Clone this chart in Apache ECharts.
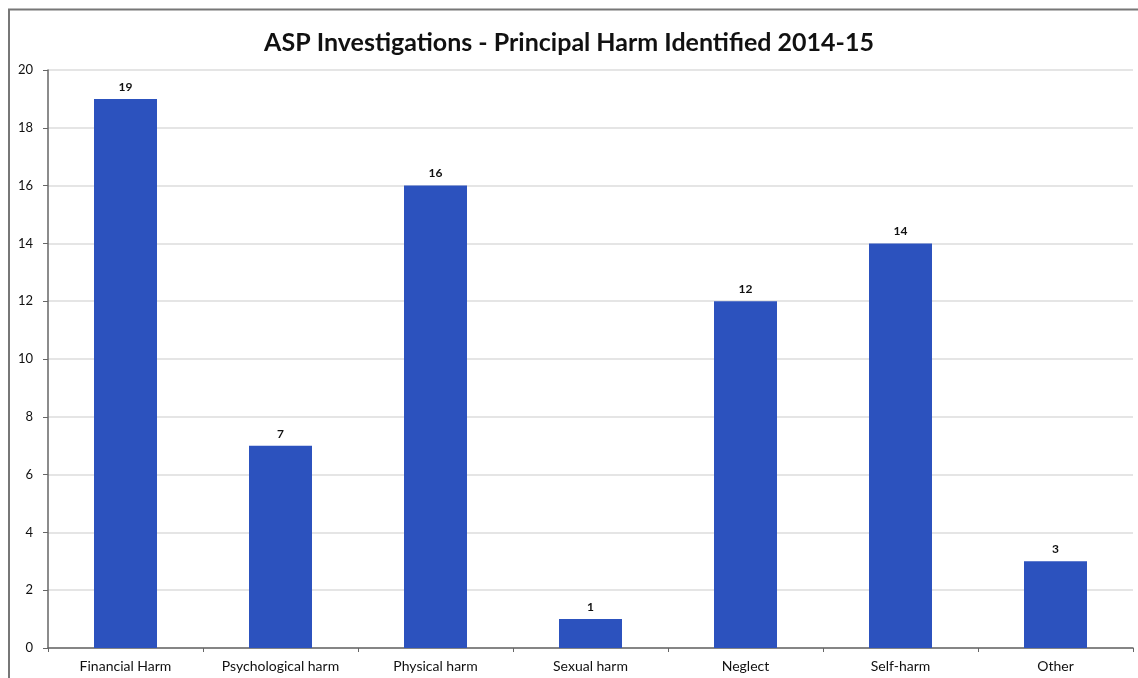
<!DOCTYPE html>
<html><head><meta charset="utf-8">
<script src="https://cdn.jsdelivr.net/npm/echarts@6/dist/echarts.min.js"></script>
<style>html,body{margin:0;padding:0;background:#fff}#c{width:1138px;height:678px}</style>
</head><body><div id="c"></div>
<script>
const categories = ['Financial Harm','Psychological harm','Physical harm','Sexual harm','Neglect','Self-harm','Other'];
const values = [19, 7, 16, 1, 12, 14, 3];
const titleText = 'ASP Investigations - Principal Harm Identified 2014-15';

const chart = echarts.init(document.getElementById('c'));
chart.setOption({
  animation: false,
  backgroundColor: '#fff',
  title: {
    text: titleText, left: 'center', top: 25,
    textStyle: {fontFamily: 'Lato', fontWeight: 'bold', fontSize: 25, color: '#111'}
  },
  graphic: [{
    type: 'polyline',
    shape: {points: [[9, 690], [9, 9.5], [1140, 9.5]]},
    style: {stroke: '#777', lineWidth: 2, fill: null}
  }],
  grid: {left: 48, right: 5, top: 70, bottom: 30},
  xAxis: {
    type: 'category', data: categories,
    axisLine: {lineStyle: {color: '#666', width: 1.5}},
    axisTick: {show: true, length: 4, lineStyle: {color: '#666'}},
    axisLabel: {color: '#111', fontFamily: 'Lato', fontSize: 14, margin: 11}
  },
  yAxis: {
    type: 'value', min: 0, max: 20, interval: 2,
    axisLine: {show: true, lineStyle: {color: '#666', width: 1.5}},
    axisTick: {show: true, length: 5, lineStyle: {color: '#666'}},
    axisLabel: {color: '#111', fontFamily: 'Lato', fontSize: 13, margin: 15},
    splitLine: {lineStyle: {color: '#dcdcdc', width: 1.5}}
  },
  series: [{
    type: 'bar', data: values, barWidth: 63,
    itemStyle: {color: '#2c52be'},
    label: {show: true, position: 'top', distance: 6, color: '#111',
      fontFamily: 'Lato', fontWeight: 'bold', fontSize: 12}
  }]
});
</script></body></html>
